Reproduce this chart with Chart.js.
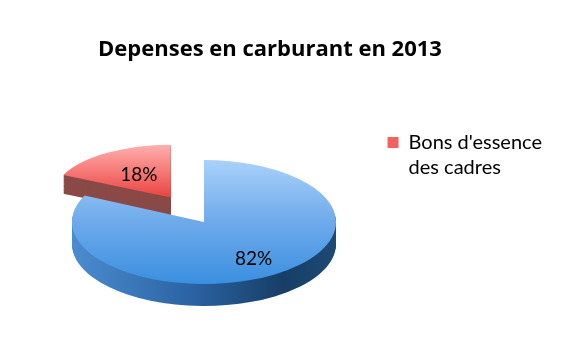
<!DOCTYPE html>
<html><head><meta charset="utf-8">
<script src="https://cdn.jsdelivr.net/npm/chart.js@4"></script>
<style>html,body{margin:0;padding:0;background:#fff}#wrap{width:570px;height:355px}</style>
</head><body><div id="wrap"><canvas id="c" width="570" height="355"></canvas></div>
<script>
// ---- data ----
const categories = ["", ["Bons d'essence", "des cadres"]];
const shares = [82, 18];
const chartTitle = "Depenses en carburant en 2013";

// ---- 3D look (style only) ----
const FONT = 'Lato';
const VIEW = {
  cx: 204, cy: 222, k: 0.47, depth: 22,
  explode: [0, 62],
  persp: [[1, 1], [0.9, 0.85]],
  labelFrac: [0.70, 0.50]
};

function topFill(ctx, i, x0, y0, R) {
  if (i === 0) {
    const g = ctx.createLinearGradient(0, y0 - R, 0, y0 + R);
    g.addColorStop(0, '#a9d1fb'); g.addColorStop(0.5, '#6eaaeb'); g.addColorStop(1, '#3a8fe0');
    return g;
  }
  const g = ctx.createLinearGradient(0, y0 - R, 0, y0);
  g.addColorStop(0, '#ffb0ae'); g.addColorStop(1, '#ea4440');
  return g;
}
function sideFill(ctx, i, x0, y0, R) {
  if (i === 0) {
    const g = ctx.createLinearGradient(x0 - R, 0, x0 + R, 0);
    g.addColorStop(0, '#4b8ccf'); g.addColorStop(0.45, '#2b63a3'); g.addColorStop(0.8, '#173e66'); g.addColorStop(1, '#1d4a75');
    return g;
  }
  return '#8a4a47';
}

const pie3d = {
  id: 'pie3d',
  beforeDatasetsDraw(chart) {
    const ctx = chart.ctx;
    const arcs = chart.getDatasetMeta(0).data;
    if (!arcs.length) return false;
    const x0 = arcs[0].x, y0 = arcs[0].y, R = arcs[0].outerRadius;
    const place = (i, dz) => {
      const arc = arcs[i];
      const mid = (arc.startAngle + arc.endAngle) / 2;
      const ex = VIEW.explode[i];
      const [sx, sy] = VIEW.persp[i];
      ctx.translate(VIEW.cx + Math.cos(mid) * ex, VIEW.cy + Math.sin(mid) * ex * VIEW.k + dz * sy);
      ctx.scale(sx, VIEW.k * sy);
      ctx.translate(-x0, -y0);
    };
    for (const i of [1, 0]) {
      const arc = arcs[i];
      const orig = arc.options;
      const side = sideFill(ctx, i, x0, y0, R);
      const top = topFill(ctx, i, x0, y0, R);
      for (let dz = VIEW.depth; dz >= 0; dz--) {
        ctx.save();
        place(i, dz);
        arc.options = Object.assign({}, orig, {backgroundColor: dz === 0 ? top : side, borderWidth: 0});
        arc.draw(ctx);
        ctx.restore();
      }
      arc.options = orig;
    }
    const total = shares.reduce((a, b) => a + b, 0);
    arcs.forEach((arc, i) => {
      const mid = (arc.startAngle + arc.endAngle) / 2;
      const r = VIEW.labelFrac[i] * R;
      ctx.save();
      place(i, 0);
      const m = ctx.getTransform();
      ctx.restore();
      const p = m.transformPoint(new DOMPoint(x0 + Math.cos(mid) * r, y0 + Math.sin(mid) * r));
      ctx.save();
      ctx.font = '19px ' + FONT;
      ctx.fillStyle = '#000';
      ctx.textAlign = 'center';
      ctx.textBaseline = 'middle';
      ctx.fillText(Math.round(shares[i] / total * 100) + '%', p.x, p.y);
      ctx.restore();
    });
    return false;
  }
};

new Chart(document.getElementById('c'), {
  type: 'pie',
  data: {
    labels: categories,
    datasets: [{
      data: shares,
      backgroundColor: ['#5b9bd5', '#f06a68'],
      borderWidth: 0,
      radius: 132
    }]
  },
  plugins: [pie3d],
  options: {
    responsive: false,
    devicePixelRatio: 1,
    animation: false,
    layout: {padding: {left: -12, right: 18, top: 27, bottom: 67}},
    plugins: {
      tooltip: {enabled: false},
      title: {
        display: true,
        text: chartTitle,
        color: '#000',
        font: {family: 'Open Sans', size: 22, weight: 'bold'},
        padding: {top: 10, bottom: 10}
      },
      legend: {
        position: 'right',
        align: 'center',
        labels: {
          color: '#000',
          font: {family: FONT, size: 20, lineHeight: 1.25},
          boxWidth: 11, boxHeight: 11,
          padding: 10,
          filter: (item) => Array.isArray(item.text) ? item.text.length > 0 : item.text !== '',
          generateLabels: (chart) => {
            const base = Chart.controllers.pie.overrides.plugins.legend.labels.generateLabels(chart);
            return base.map((it, i) => Object.assign(it, {fillStyle: i === 1 ? '#f2625f' : it.fillStyle, strokeStyle: 'transparent', lineWidth: 0}));
          }
        }
      }
    }
  }
});
</script>
</body></html>
